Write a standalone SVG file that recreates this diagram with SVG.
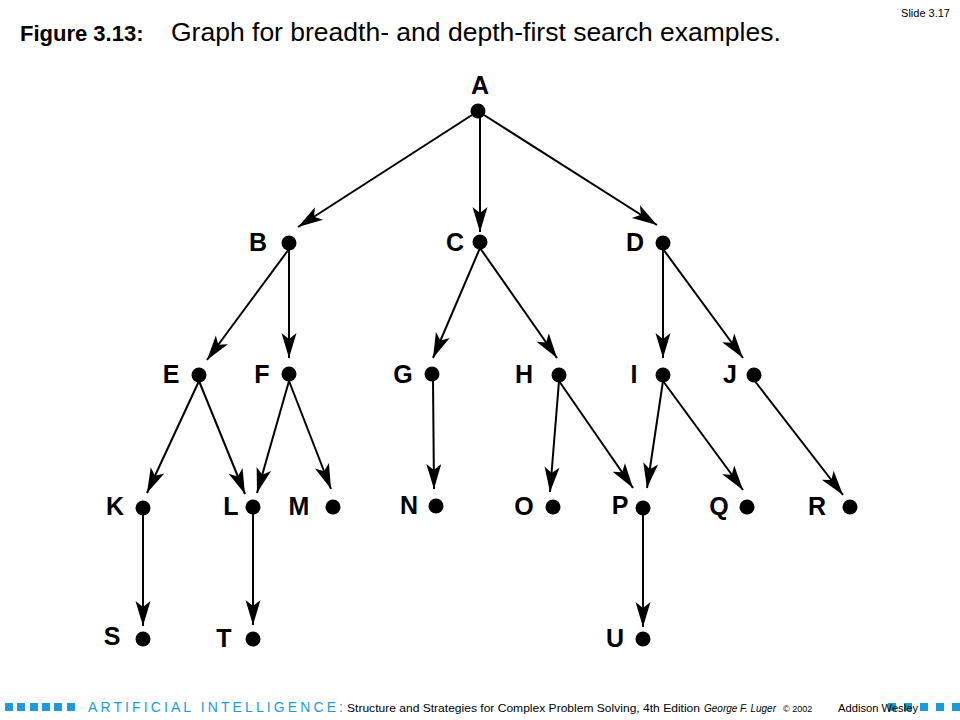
<svg xmlns="http://www.w3.org/2000/svg" width="960" height="720" viewBox="0 0 960 720">
<defs>
<style>
.lbl{font-family:"Liberation Sans",Arial,sans-serif;font-weight:bold;font-size:25px;fill:#000;text-anchor:middle}
.dot{fill:#000}
.edge{stroke:#000;stroke-width:2;fill:none;marker-end:url(#arr)}
.sq{fill:#1E9BD7}
.ft{font-family:"Liberation Sans",Arial,sans-serif;fill:#000}
</style>
<marker id="arr" markerUnits="userSpaceOnUse" viewBox="-26 -8 27 16" markerWidth="27" markerHeight="16" refX="0" refY="0" orient="auto" overflow="visible">
<path d="M0,0 L-25,-7.5 L-19,0 L-25,7.5 Z" fill="#000"/>
</marker>
</defs>
<rect width="960" height="720" fill="#fff"/>

<g id="header">
<text x="20" y="41" font-family="Liberation Sans,Arial,sans-serif" font-weight="bold" font-size="22">Figure 3.13:</text>
<text x="171" y="41" font-family="Liberation Sans,Arial,sans-serif" font-size="26.5">Graph for breadth- and depth-first search examples.</text>
<text x="950" y="17" font-family="Liberation Sans,Arial,sans-serif" font-size="11" text-anchor="end">Slide 3.17</text>
</g>

<g id="connectors">
<line class="edge" x1="472" y1="115" x2="298" y2="227"/>
<line class="edge" x1="480" y1="117" x2="480" y2="232"/>
<line class="edge" x1="484" y1="115" x2="657" y2="225"/>
<line class="edge" x1="289" y1="249" x2="207" y2="360"/>
<line class="edge" x1="289" y1="249" x2="289" y2="358"/>
<line class="edge" x1="480" y1="248" x2="433" y2="358"/>
<line class="edge" x1="480" y1="248" x2="557" y2="358"/>
<line class="edge" x1="663" y1="249" x2="663" y2="358"/>
<line class="edge" x1="663" y1="249" x2="743" y2="358"/>
<line class="edge" x1="199" y1="381" x2="147" y2="493"/>
<line class="edge" x1="199" y1="381" x2="245" y2="494"/>
<line class="edge" x1="289" y1="381" x2="257" y2="493"/>
<line class="edge" x1="289" y1="381" x2="331" y2="489"/>
<line class="edge" x1="433" y1="380" x2="434" y2="489"/>
<line class="edge" x1="559" y1="381" x2="550" y2="492"/>
<line class="edge" x1="559" y1="381" x2="633" y2="488"/>
<line class="edge" x1="663" y1="381" x2="647" y2="488"/>
<line class="edge" x1="663" y1="381" x2="743" y2="490"/>
<line class="edge" x1="754" y1="380" x2="843" y2="495"/>
<line class="edge" x1="143" y1="514" x2="143" y2="626"/>
<line class="edge" x1="253" y1="514" x2="253" y2="625"/>
<line class="edge" x1="643" y1="514" x2="643" y2="627"/>
</g>

<g id="node-A"><circle class="dot" cx="478" cy="111" r="7.5"/><text class="lbl" x="480" y="94" font-size="27">A</text></g>
<g id="node-B"><circle class="dot" cx="289" cy="243" r="7.5"/><text class="lbl" x="258" y="251">B</text></g>
<g id="node-C"><circle class="dot" cx="480" cy="242" r="7.5"/><text class="lbl" x="455" y="251">C</text></g>
<g id="node-D"><circle class="dot" cx="663" cy="243" r="7.5"/><text class="lbl" x="635" y="251">D</text></g>
<g id="node-E"><circle class="dot" cx="199" cy="375" r="7.5"/><text class="lbl" x="171" y="383">E</text></g>
<g id="node-F"><circle class="dot" cx="289" cy="374" r="7.5"/><text class="lbl" x="262" y="383">F</text></g>
<g id="node-G"><circle class="dot" cx="432" cy="374" r="7.5"/><text class="lbl" x="403" y="383">G</text></g>
<g id="node-H"><circle class="dot" cx="559" cy="375" r="7.5"/><text class="lbl" x="524" y="383">H</text></g>
<g id="node-I"><circle class="dot" cx="663" cy="375" r="7.5"/><text class="lbl" x="634" y="383">I</text></g>
<g id="node-J"><circle class="dot" cx="754" cy="375" r="7.5"/><text class="lbl" x="730" y="383">J</text></g>
<g id="node-K"><circle class="dot" cx="143" cy="508" r="7.5"/><text class="lbl" x="115" y="515">K</text></g>
<g id="node-L"><circle class="dot" cx="253" cy="507" r="7.5"/><text class="lbl" x="231" y="515">L</text></g>
<g id="node-M"><circle class="dot" cx="333" cy="507" r="7.5"/><text class="lbl" x="299" y="515">M</text></g>
<g id="node-N"><circle class="dot" cx="436" cy="506" r="7.5"/><text class="lbl" x="409" y="514">N</text></g>
<g id="node-O"><circle class="dot" cx="553" cy="507" r="7.5"/><text class="lbl" x="524" y="515">O</text></g>
<g id="node-P"><circle class="dot" cx="643" cy="508" r="7.5"/><text class="lbl" x="620" y="514">P</text></g>
<g id="node-Q"><circle class="dot" cx="747" cy="507" r="7.5"/><text class="lbl" x="719" y="515">Q</text></g>
<g id="node-R"><circle class="dot" cx="850" cy="507" r="7.5"/><text class="lbl" x="817" y="515">R</text></g>
<g id="node-S"><circle class="dot" cx="143" cy="639" r="7.5"/><text class="lbl" x="112" y="645">S</text></g>
<g id="node-T"><circle class="dot" cx="253" cy="639" r="7.5"/><text class="lbl" x="224" y="647">T</text></g>
<g id="node-U"><circle class="dot" cx="643" cy="639" r="7.5"/><text class="lbl" x="615" y="647">U</text></g>

<g id="footer">
<rect class="sq" x="5" y="703" width="8" height="8"/>
<rect class="sq" x="17" y="703" width="8" height="8"/>
<rect class="sq" x="30" y="703" width="8" height="8"/>
<rect class="sq" x="42" y="703" width="8" height="8"/>
<rect class="sq" x="54" y="703" width="8" height="8"/>
<rect class="sq" x="67" y="703" width="8" height="8"/>
<rect class="sq" x="888" y="703" width="8" height="8"/>
<rect class="sq" x="904" y="703" width="8" height="8"/>
<rect class="sq" x="920" y="703" width="8" height="8"/>
<rect class="sq" x="936" y="703" width="8" height="8"/>
<rect class="sq" x="952" y="703" width="8" height="8"/>
<text x="88" y="712" font-family="Liberation Sans,Arial,sans-serif" font-size="14" fill="#1E9BD7" textLength="255" lengthAdjust="spacing">ARTIFICIAL INTELLIGENCE:</text>
<text class="ft" x="347" y="712" font-size="11.5" textLength="353" lengthAdjust="spacingAndGlyphs">Structure and Strategies for Complex Problem Solving, 4th Edition</text>
<text class="ft" x="704" y="712" font-size="10.5" font-style="italic" textLength="72" lengthAdjust="spacingAndGlyphs">George F. Luger</text>
<text class="ft" x="783" y="712" font-size="9">© 2002</text>
<text class="ft" x="838" y="712" font-size="10" textLength="80" lengthAdjust="spacingAndGlyphs">Addison Wesley</text>
</g>
</svg>
